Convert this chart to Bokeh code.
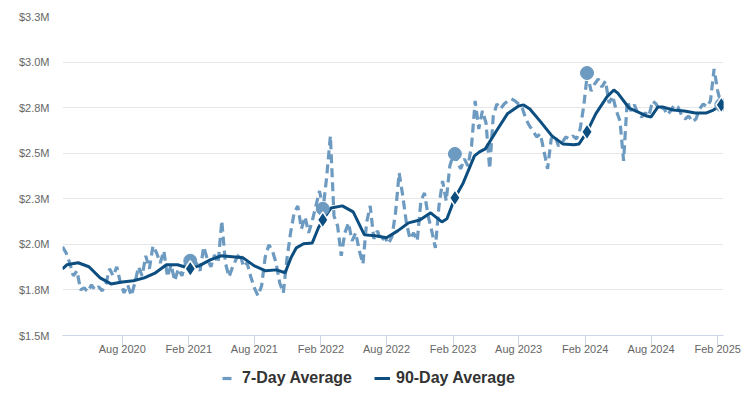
import pandas as pd
from bokeh.plotting import figure
from bokeh.layouts import column
from bokeh.models import (FixedTicker, DatetimeTickFormatter, Legend, LegendItem,
                          ColumnDataSource, Range1d)
from bokeh.embed import file_html
from bokeh.resources import INLINE

# ---------------- data ($ millions) ----------------
# 7-day average, one reading every 10 days starting at seven_day_start
seven_day_start = "2020-02-18"
seven_day_step = "10D"
seven_day_values = [
    1.986, 1.953, 1.898, 1.827, 1.855, 1.750, 1.761, 1.740, 1.778, 1.750,
    1.767, 1.745, 1.783, 1.866, 1.827, 1.877, 1.789, 1.734, 1.778, 1.718,
    1.789, 1.877, 1.827, 1.937, 1.866, 1.992, 1.953, 1.898, 1.964, 1.822,
    1.888, 1.800, 1.866, 1.827, 1.898, 1.910, 1.877, 1.898, 1.855, 1.986,
    1.920, 1.877, 1.942, 1.898, 2.129, 1.898, 1.822, 1.877, 1.920, 1.953,
    1.877, 1.898, 1.822, 1.761, 1.718, 1.772, 1.931, 1.997, 1.964, 1.898,
    1.789, 1.734, 1.920, 2.063, 2.173, 2.211, 2.085, 2.151, 2.063, 2.129,
    2.211, 2.293, 2.195, 2.375, 2.595, 2.156, 2.101, 1.937, 2.063, 2.118,
    2.019, 2.063, 1.964, 1.893, 2.118, 2.211, 2.030, 2.074, 2.019, 2.041,
    2.003, 2.041, 2.173, 2.392, 2.266, 2.118, 2.030, 2.063, 2.019, 2.238,
    2.282, 2.156, 2.074, 1.981, 2.211, 2.348, 2.238, 2.430, 2.496, 2.458,
    2.414, 2.469, 2.430, 2.540, 2.787, 2.633, 2.732, 2.666, 2.414, 2.704,
    2.770, 2.743, 2.770, 2.787, 2.798, 2.787, 2.770, 2.748, 2.688, 2.650,
    2.622, 2.589, 2.606, 2.512, 2.414, 2.578, 2.600, 2.540, 2.556, 2.589,
    2.578, 2.595, 2.578, 2.633, 2.759, 2.940, 2.841, 2.880, 2.907, 2.863,
    2.896, 2.776, 2.814, 2.732, 2.677, 2.458, 2.787, 2.732, 2.765, 2.715,
    2.699, 2.721, 2.704, 2.787, 2.770, 2.732, 2.754, 2.710, 2.732, 2.765,
    2.754, 2.710, 2.688, 2.704, 2.672, 2.688, 2.743, 2.770, 2.754, 2.787,
    2.962, 2.841, 2.765,
]

# 90-day average
ninety_day_dates = [
    "2020-02-18", "2020-03-01", "2020-04-01", "2020-05-01", "2020-06-01", "2020-07-01",
    "2020-08-01", "2020-09-01", "2020-10-01", "2020-11-01", "2020-12-01", "2021-01-01",
    "2021-02-05", "2021-03-01", "2021-04-01", "2021-05-01", "2021-06-01", "2021-07-01",
    "2021-08-01", "2021-09-01", "2021-10-01", "2021-10-25", "2021-11-10", "2021-11-25",
    "2021-12-15", "2022-01-08", "2022-01-25", "2022-02-06", "2022-03-01", "2022-04-01",
    "2022-05-01", "2022-06-01", "2022-07-01", "2022-08-01", "2022-09-01", "2022-10-01",
    "2022-11-01", "2022-12-01", "2023-01-01", "2023-01-15", "2023-02-06", "2023-03-01",
    "2023-04-01", "2023-04-15", "2023-05-01", "2023-06-01", "2023-07-01", "2023-08-01",
    "2023-08-15", "2023-09-01", "2023-10-01", "2023-11-01", "2023-12-01", "2024-01-01",
    "2024-01-15", "2024-02-06", "2024-03-01", "2024-04-01", "2024-04-20", "2024-05-01",
    "2024-06-01", "2024-07-01", "2024-07-20", "2024-08-01", "2024-08-20", "2024-09-01",
    "2024-10-01", "2024-11-01", "2024-12-01", "2025-01-01", "2025-01-20", "2025-02-11",
]
ninety_day_values = [
    1.866, 1.888, 1.899, 1.877, 1.816, 1.783,
    1.794, 1.800, 1.816, 1.844, 1.888, 1.888,
    1.866, 1.882, 1.915, 1.937, 1.932, 1.926,
    1.882, 1.855, 1.860, 1.844, 1.926, 1.981,
    2.003, 2.008, 2.091, 2.134, 2.200, 2.211,
    2.178, 2.052, 2.047, 2.036, 2.074, 2.118,
    2.134, 2.173, 2.123, 2.140, 2.255, 2.337,
    2.485, 2.507, 2.524, 2.623, 2.716, 2.759,
    2.765, 2.743, 2.672, 2.595, 2.551, 2.546,
    2.551, 2.617, 2.716, 2.809, 2.847, 2.830,
    2.748, 2.721, 2.704, 2.699, 2.754, 2.754,
    2.737, 2.732, 2.721, 2.721, 2.737, 2.765,
]

# yearly snapshot markers
snapshot_dates = ["2021-02-05", "2022-02-06", "2023-02-06", "2024-02-06", "2025-02-11"]
snapshot_7day = [1.910, 2.195, 2.496, 2.940, 2.765]
snapshot_90day = [1.866, 2.134, 2.255, 2.617, 2.765]

x_tick_dates = ["2020-08-01", "2021-02-01", "2021-08-01", "2022-02-01", "2022-08-01",
                "2023-02-01", "2023-08-01", "2024-02-01", "2024-08-01", "2025-02-01"]
y_ticks = [1.5, 1.75, 2.0, 2.25, 2.5, 2.75, 3.0, 3.25]
y_tick_labels = ["$1.5M", "$1.8M", "$2.0M", "$2.3M", "$2.5M", "$2.8M", "$3.0M", "$3.3M"]

series_names = ["7-Day Average", "90-Day Average"]
c_light = "#6d9ac0"
c_dark = "#0d4e80"
FONT = "Liberation Sans"
DASH = "9 5"

# ---------------- sources ----------------
seven_dates = pd.date_range(seven_day_start, periods=len(seven_day_values), freq=seven_day_step)
src7 = ColumnDataSource(dict(x=seven_dates, y=seven_day_values))
src90 = ColumnDataSource(dict(x=pd.to_datetime(ninety_day_dates), y=ninety_day_values))
srcs = ColumnDataSource(dict(x=pd.to_datetime(snapshot_dates), y7=snapshot_7day, y90=snapshot_90day))


def ms(d):
    return (pd.Timestamp(d) - pd.Timestamp("1970-01-01")) / pd.Timedelta(milliseconds=1)


p = figure(width=744, height=357, x_axis_type="datetime", output_backend="svg",
           toolbar_location=None,
           x_range=Range1d(pd.Timestamp("2020-02-18"), pd.Timestamp("2025-02-17")),
           y_range=Range1d(1.5, 3.25),
           min_border_left=62, min_border_right=21, min_border_top=16, min_border_bottom=22)
p.outline_line_color = None
p.background_fill_color = "white"
p.border_fill_color = "white"

p.line("x", "y", source=src7, line_color=c_light, line_width=3.2, line_dash=DASH)
p.line("x", "y", source=src90, line_color=c_dark, line_width=3)
p.scatter("x", "y7", source=srcs, marker="circle", size=13, fill_color=c_light,
          line_color=c_light)
p.scatter("x", "y90", source=srcs, marker="diamond", size=16, fill_color=c_dark,
          line_color="white", line_width=1.5)

# axes
xa = p.xaxis[0]
xa.ticker = FixedTicker(ticks=[ms(d) for d in x_tick_dates])
xa.formatter = DatetimeTickFormatter(days="%b %Y", months="%b %Y", years="%b %Y")
xa.axis_line_color = "#ccd6eb"
xa.major_tick_line_color = "#ccd6eb"
xa.major_tick_out = 10
xa.major_tick_in = 0
xa.minor_tick_line_color = None
xa.minor_tick_out = 0
xa.major_label_standoff = -3
xa.major_label_text_font = FONT
xa.major_label_text_font_size = "11px"
xa.major_label_text_color = "#666666"

ya = p.yaxis[0]
ya.ticker = FixedTicker(ticks=y_ticks)
ya.major_label_overrides = {t: l for t, l in zip(y_ticks, y_tick_labels)}
ya.axis_line_color = None
ya.major_tick_line_color = None
ya.minor_tick_line_color = None
ya.major_tick_out = 0
ya.major_tick_in = 0
ya.minor_tick_out = 0
ya.major_label_standoff = 13
ya.major_label_text_font = FONT
ya.major_label_text_font_size = "11px"
ya.major_label_text_color = "#666666"

p.xgrid.grid_line_color = None
p.ygrid.grid_line_color = "#e6e6e6"
p.ygrid.grid_line_width = 1

# ---------------- legend strip ----------------
lg = figure(width=744, height=40, output_backend="svg", toolbar_location=None,
            x_range=Range1d(0, 1), y_range=Range1d(0, 1),
            x_axis_location=None, y_axis_location=None, min_border=0)
lg.outline_line_color = None
lg.xgrid.visible = False
lg.ygrid.visible = False
# off-range keys: only their legend swatches are visible
k7 = lg.line([-5, -4], [-5, -4], line_color=c_light, line_width=3.2, line_dash=DASH,
             line_dash_offset=12)
k90 = lg.line([-5, -4], [-5, -4], line_color=c_dark, line_width=3)
legend = Legend(items=[LegendItem(label=series_names[0], renderers=[k7]),
                       LegendItem(label=series_names[1], renderers=[k90])],
                orientation="horizontal", location=(158, 10),
                border_line_color=None, background_fill_alpha=0,
                label_text_font=FONT, label_text_font_size="16px",
                label_text_font_style="bold", label_text_color="#333333",
                glyph_width=16, glyph_height=16, label_height=16,
                label_standoff=6, spacing=22, padding=0, margin=0)
lg.add_layout(legend, "center")

open("out.html", "w").write(file_html(column(p, lg, spacing=0), INLINE))
